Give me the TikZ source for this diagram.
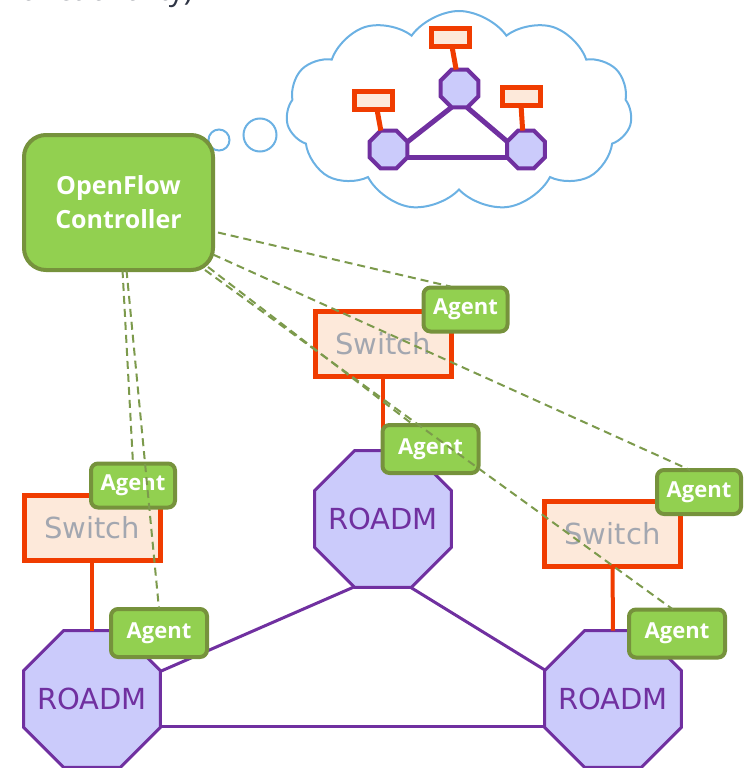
\documentclass[tikz,border=0pt]{standalone}
\usepackage{fontspec}
\setmainfont{DejaVu Sans}
\newfontfamily\labelfont{Open Sans}
\usetikzlibrary{shapes.geometric,shapes.symbols,calc}

\definecolor{agentfill}{HTML}{92D050}
\definecolor{agentline}{HTML}{76923C}
\definecolor{swfill}{HTML}{FDE9DA}
\definecolor{swline}{HTML}{F03C00}
\definecolor{swtext}{HTML}{A3A7B0}
\definecolor{octfill}{HTML}{CBCBFB}
\definecolor{octline}{HTML}{7030A0}
\definecolor{cloudline}{HTML}{6BB1E3}
\definecolor{linkdash}{HTML}{7C9A4C}
\definecolor{headtext}{HTML}{2F3545}

\tikzset{
  agent/.style={draw=agentline, fill=agentfill, line width=4pt, rounded corners=7pt,
    text=white, font=\labelfont\bfseries\fontsize{22}{26}\selectfont,
    inner sep=0pt, outer sep=0pt},
  agentS/.style={agent, minimum width=84pt, minimum height=44pt},
  agentR/.style={agent, minimum width=96pt, minimum height=48pt},
  ctrlbox/.style={draw=agentline, fill=agentfill, line width=4pt, rounded corners=22pt,
    text=white, align=center, font=\labelfont\bfseries\fontsize{25}{34}\selectfont,
    minimum width=189pt, minimum height=135pt, inner sep=0pt, outer sep=0pt},
  switchbox/.style={draw=swline, fill=swfill, line width=5pt, text=swtext,
    font=\fontsize{29}{32}\selectfont, minimum width=136pt, minimum height=65pt,
    inner sep=0pt, outer sep=0pt},
  roadmtext/.style={text=octline, font=\fontsize{29}{32}\selectfont, inner sep=0pt},
  roadm/.style={regular polygon, regular polygon sides=8, draw=octline, fill=octfill,
    line width=3pt, minimum size=148pt, inner sep=0pt, outer sep=0pt,
    label={[roadmtext]center:#1}},
  minioct/.style={regular polygon, regular polygon sides=8, draw=octline, fill=octfill,
    line width=4pt, minimum size=41pt, inner sep=0pt, outer sep=0pt},
  minisw/.style={draw=swline, fill=swfill, line width=5pt, minimum width=38pt,
    minimum height=18pt, inner sep=0pt, outer sep=0pt},
  link/.style={draw=octline, line width=3pt},
  minilink/.style={draw=octline, line width=5pt},
  uplink/.style={draw=swline, line width=4pt},
  miniup/.style={draw=swline, line width=5pt},
  ctlpath/.style={draw=linkdash, line width=2pt, dash pattern=on 8pt off 5pt},
  puff/.style={draw=cloudline, line width=2pt}
}

\begin{document}
\begin{tikzpicture}[x=1pt,y=-1pt]
\useasboundingbox (0,0) rectangle (746,768);

% heading line above, cut by the page edge
\node[anchor=base east, text=headtext, font=\labelfont\fontsize{30}{30}\selectfont, inner sep=0pt]
  (head) at (193,1) {functionality)};

% thought cloud with the abstract network view
\node[cloud, puff, cloud puffs=11, cloud puff arc=110, aspect=1.72,
  minimum width=346pt, minimum height=200pt, inner sep=0pt] (cloud) at (459,111) {};
\node[circle, puff, minimum size=21pt, inner sep=0pt] (b1) at (219,140) {};
\node[circle, puff, minimum size=33pt, inner sep=0pt] (b2) at (260,135) {};

\node[minioct] (oT) at (459.5,88.5) {};
\node[minioct] (oL) at (388.5,149.5) {};
\node[minioct] (oR) at (526,149.5) {};
\draw[minilink] (oT.247.5) -- (oL.22.5);
\draw[minilink] (oT.292.5) -- (oR.157.5);
\draw[minilink] (oL.-22.5) -- (oR.202.5);
\node[minisw] (sT) at (450,37.5) {};
\node[minisw] (sL) at (373,100.5) {};
\node[minisw] (sR) at (521,96) {};
\draw[miniup] ([xshift=2pt]sT.south) -- (oT.100);
\draw[miniup] ([xshift=4pt]sL.south) -- (oL.112.5);
\draw[miniup] (sR.south) -- (oR.100);

% ROADM ring
\node[roadm=ROADM] (rT) at (383,519) {};
\node[roadm=ROADM] (rL) at (92,699) {};
\node[roadm=ROADM] (rR) at (613,699) {};
\draw[link] (rT.247.5) -- (rL.22.5);
\draw[link] (rT.292.5) -- (rR.157.5);
\draw[link] (rL.-22.5) -- (rR.202.5);

% packet switches on top of the ROADMs
\node[switchbox] (swT) at (383,344) {Switch};
\node[switchbox] (swL) at (92,528) {Switch};
\node[switchbox] (swR) at (612.5,534) {Switch};
\draw[uplink] (swT.south) -- (rT.north);
\draw[uplink] (swL.south) -- (rL.north);
\draw[uplink] (swR.south) -- (rR.north);

% agents
\node[agentS] (agS1) at (465.5,309.5) {Agent};
\node[agentS] (agS2) at (133,485.5) {Agent};
\node[agentS] (agS3) at (699,492) {Agent};
\node[agentR] (agR1) at (430.5,449) {Agent};
\node[agentR] (agR2) at (159,633) {Agent};
\node[agentR] (agR3) at (677,633.5) {Agent};

% controller
\node[ctrlbox] (ctrl) at (118.5,202.5) {OpenFlow\\Controller};

% control channels
\draw[ctlpath] ($(ctrl.east)+(5,30)$) -- ($(agS1.north)+(-15,-1)$);
\draw[ctlpath] ($(ctrl.east)+(0,52)$) -- ($(agS3.north)+(-9,0)$);
\draw[ctlpath] ($(ctrl.south east)+(-5,-3)$) -- ($(agR1.north)+(-17,0)$);
\draw[ctlpath] ($(ctrl.south east)+(-8,0)$) -- ($(agR3.north)+(-4,0)$);
\draw[ctlpath] ($(ctrl.south)+(4,0)$) -- (agS2.north);
\draw[ctlpath] ($(ctrl.south)+(8,0)$) -- (agR2.north);
\end{tikzpicture}
\end{document}
